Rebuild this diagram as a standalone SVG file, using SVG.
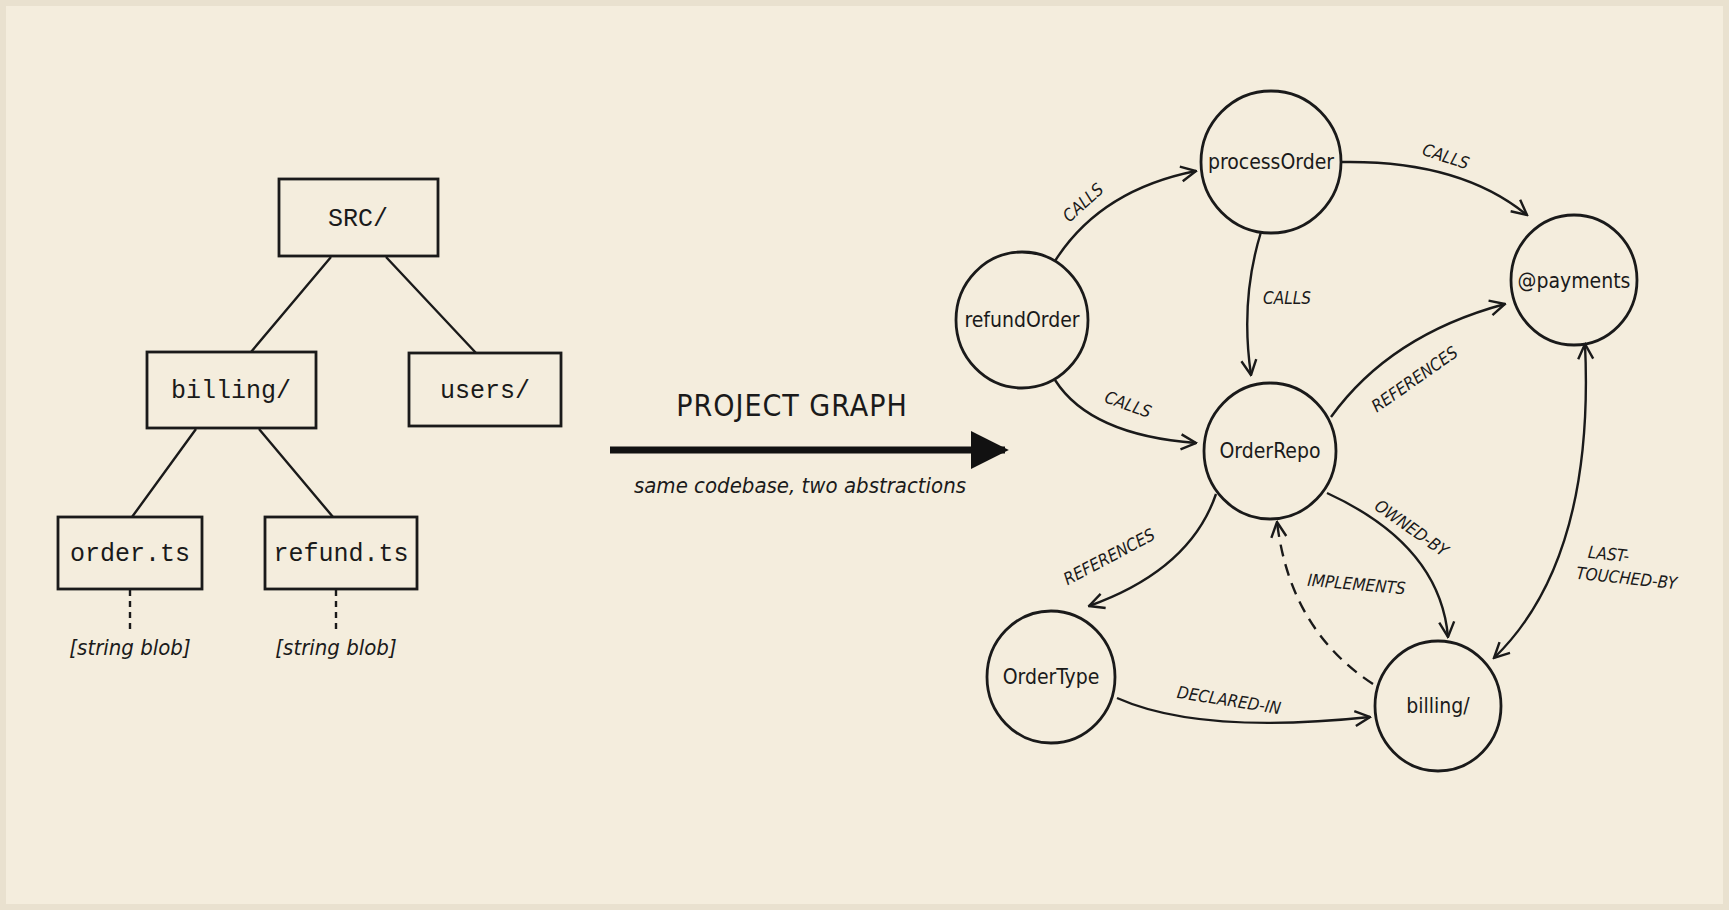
<svg xmlns="http://www.w3.org/2000/svg" width="1729" height="910" viewBox="0 0 1729 910">
<style>
.box{fill:none;stroke:#1a1a1a;stroke-width:2.8}
.ln{fill:none;stroke:#1a1a1a;stroke-width:2.4}
.c{fill:none;stroke:#1a1a1a;stroke-width:2.8}
.mono{font-family:"Liberation Mono","DejaVu Sans Mono",monospace;font-size:25px;fill:#1a1a1a;text-anchor:middle}
.nt{font-family:"DejaVu Sans Condensed","DejaVu Sans",sans-serif;font-stretch:condensed;font-size:21px;fill:#1a1a1a;text-anchor:middle}
.el{font-family:"DejaVu Sans Condensed","DejaVu Sans",sans-serif;font-stretch:condensed;font-style:italic;font-size:17px;fill:#1a1a1a;text-anchor:middle}
.it{font-family:"DejaVu Sans Condensed","DejaVu Sans",sans-serif;font-stretch:condensed;font-style:italic;font-size:22px;fill:#1a1a1a;text-anchor:middle}
.e{fill:none;stroke:#1a1a1a;stroke-width:2.4;marker-end:url(#a)}
</style>
<defs>
<marker id="a" viewBox="0 0 12 12" refX="11" refY="6" markerWidth="18" markerHeight="18" markerUnits="userSpaceOnUse" orient="auto-start-reverse"><path d="M1,1 L11,6 L1,11" fill="none" stroke="#1a1a1a" stroke-width="1.6"/></marker>
<marker id="big" viewBox="0 0 10 10" refX="9" refY="5" markerWidth="38" markerHeight="38" markerUnits="userSpaceOnUse" orient="auto"><path d="M0,0 L10,5 L0,10 Z" fill="#111"/></marker>
</defs>
<rect x="0" y="0" width="1729" height="910" fill="#e9e1cf"/>
<rect x="6" y="6" width="1717" height="898" fill="#f4eddd"/>
<g id="tree-lines">
<path class="ln" d="M331,257 L251,352 M386,257 L476,353 M196,429 L132,517 M259,429 L333,517"/>
<path class="ln" stroke-dasharray="6,5" d="M130,590 L130,629 M336,590 L336,629"/>
</g>
<g id="src"><rect class="box" x="279" y="179" width="159" height="77"/><text class="mono" x="358" y="226">SRC/</text></g>
<g id="billing-dir"><rect class="box" x="147" y="352" width="169" height="76"/><text class="mono" x="231" y="398">billing/</text></g>
<g id="users"><rect class="box" x="409" y="353" width="152" height="73"/><text class="mono" x="485" y="398">users/</text></g>
<g id="order-ts"><rect class="box" x="58" y="517" width="144" height="72"/><text class="mono" x="130" y="561">order.ts</text><text class="it" x="130" y="655">[string blob]</text></g>
<g id="refund-ts"><rect class="box" x="265" y="517" width="152" height="72"/><text class="mono" x="341" y="561">refund.ts</text><text class="it" x="336" y="655">[string blob]</text></g>
<g id="transition">
<text x="792" y="416" font-family="DejaVu Sans Condensed, DejaVu Sans, sans-serif" font-stretch="condensed" font-size="30" fill="#1a1a1a" text-anchor="middle" letter-spacing="1">PROJECT GRAPH</text>
<line x1="610" y1="450" x2="1005" y2="450" stroke="#111" stroke-width="7" marker-end="url(#big)"/>
<text class="it" x="800" y="493">same codebase, two abstractions</text>
</g>
<g id="connectors">
<path class="e" d="M1055,261 Q1100,190 1196,171"/>
<text class="el" transform="translate(1087,207) rotate(-42)">CALLS</text>
<path class="e" d="M1342,162 Q1460,160 1527,215"/>
<text class="el" transform="translate(1444,162) rotate(18)">CALLS</text>
<path class="e" d="M1261,232 Q1240,300 1251,375"/>
<text class="el" x="1287" y="304">CALLS</text>
<path class="e" d="M1055,380 Q1090,435 1196,443"/>
<text class="el" transform="translate(1126,410) rotate(20)">CALLS</text>
<path class="e" d="M1331,417 Q1390,335 1505,304"/>
<text class="el" transform="translate(1418,384) rotate(-35)">REFERENCES</text>
<path class="e" d="M1216,494 Q1190,570 1089,606"/>
<text class="el" transform="translate(1112,562) rotate(-28)">REFERENCES</text>
<path class="e" d="M1327,493 Q1440,545 1448,637"/>
<text class="el" transform="translate(1408,533) rotate(35)">OWNED-BY</text>
<path class="e" stroke-dasharray="12,8" d="M1373,684 Q1290,630 1277,522"/>
<text class="el" transform="translate(1356,590) rotate(5)">IMPLEMENTS</text>
<path class="e" d="M1117,698 Q1200,735 1370,717"/>
<text class="el" transform="translate(1228,706) rotate(9)">DECLARED-IN</text>
<path class="e" marker-start="url(#a)" d="M1585,344 Q1595,560 1494,658"/>
<text class="el" transform="translate(1608,560) rotate(6)">LAST-</text>
<text class="el" transform="translate(1626,584) rotate(6)">TOUCHED-BY</text>
</g>
<g id="processOrder"><ellipse class="c" cx="1271" cy="162" rx="70" ry="71"/><text class="nt" x="1271" y="169">processOrder</text></g>
<g id="payments"><ellipse class="c" cx="1574" cy="280" rx="63" ry="65"/><text class="nt" x="1574" y="288">@payments</text></g>
<g id="refundOrder"><ellipse class="c" cx="1022" cy="320" rx="66" ry="68"/><text class="nt" x="1022" y="327">refundOrder</text></g>
<g id="OrderRepo"><ellipse class="c" cx="1270" cy="451" rx="66" ry="68"/><text class="nt" x="1270" y="458">OrderRepo</text></g>
<g id="OrderType"><ellipse class="c" cx="1051" cy="677" rx="64" ry="66"/><text class="nt" x="1051" y="684">OrderType</text></g>
<g id="billing"><ellipse class="c" cx="1438" cy="706" rx="63" ry="65"/><text class="nt" x="1438" y="713">billing/</text></g>
</svg>
